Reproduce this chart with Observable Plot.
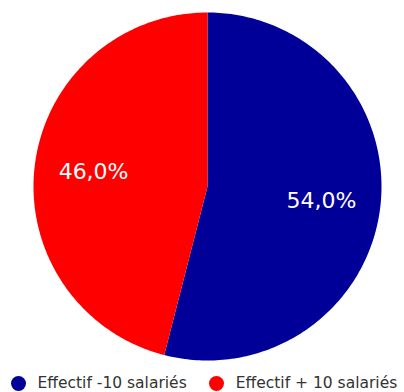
<!DOCTYPE html>
<html><head><meta charset="utf-8">
<script src="https://cdn.jsdelivr.net/npm/d3@7"></script>
<script src="https://cdn.jsdelivr.net/npm/@observablehq/plot@0.6"></script>
<style>
body{margin:0;background:#fff;font-family:"DejaVu Sans",Verdana,sans-serif;}
#legend{display:flex;align-items:center;height:30px;font-size:15.5px;color:#333;white-space:nowrap;}
.item{display:flex;align-items:center;}
.item:first-child{margin-left:10.5px;}
.item + .item{margin-left:22px;}
.sw{width:15px;height:15px;border-radius:50%;margin-right:12px;}
</style></head>
<body><div id="chart"></div><div id="legend"></div>
<script>
const categories = ["Effectif -10 salariés", "Effectif + 10 salariés"];
const values = [54.0, 46.0];
const labels = ["54,0%", "46,0%"];
const colors = ["#000099", "#FF0000"];

const pie = d3.pie().sort(null).value(d => d.value);
const arcs = pie(categories.map((c, i) => ({cat: c, value: values[i], label: labels[i]})));
const pts = [];
arcs.forEach(a => {
  pts.push({cat: a.data.cat, x: 0, y: 0});
  const n = 200;
  for (let k = 0; k <= n; k++) {
    const t = a.startAngle + (a.endAngle - a.startAngle) * k / n;
    pts.push({cat: a.data.cat, x: Math.sin(t), y: Math.cos(t)});
  }
});
const lab = arcs.map(a => {
  const m = (a.startAngle + a.endAngle) / 2;
  return {label: a.data.label, x: 0.66 * Math.sin(m), y: 0.66 * Math.cos(m)};
});

const chart = Plot.plot({
  width: 404, height: 368,
  marginLeft: 33, marginRight: 23, marginTop: 12, marginBottom: 8,
  x: {domain: [-1, 1], axis: null},
  y: {domain: [-1, 1], axis: null},
  color: {domain: categories, range: colors},
  marks: [
    Plot.line(pts, {x: "x", y: "y", z: "cat", fill: "cat", stroke: "none", curve: "linear-closed"}),
    Plot.text(lab, {x: "x", y: "y", text: "label", fill: "white", fontSize: 22, fontFamily: "DejaVu Sans"})
  ]
});
document.getElementById("chart").appendChild(chart);
const lg = document.getElementById("legend");
categories.forEach((c, i) => {
  const it = document.createElement("div"); it.className = "item";
  const sw = document.createElement("div"); sw.className = "sw"; sw.style.background = colors[i];
  const tx = document.createElement("span"); tx.textContent = c;
  it.appendChild(sw); it.appendChild(tx); lg.appendChild(it);
});
</script></body></html>
